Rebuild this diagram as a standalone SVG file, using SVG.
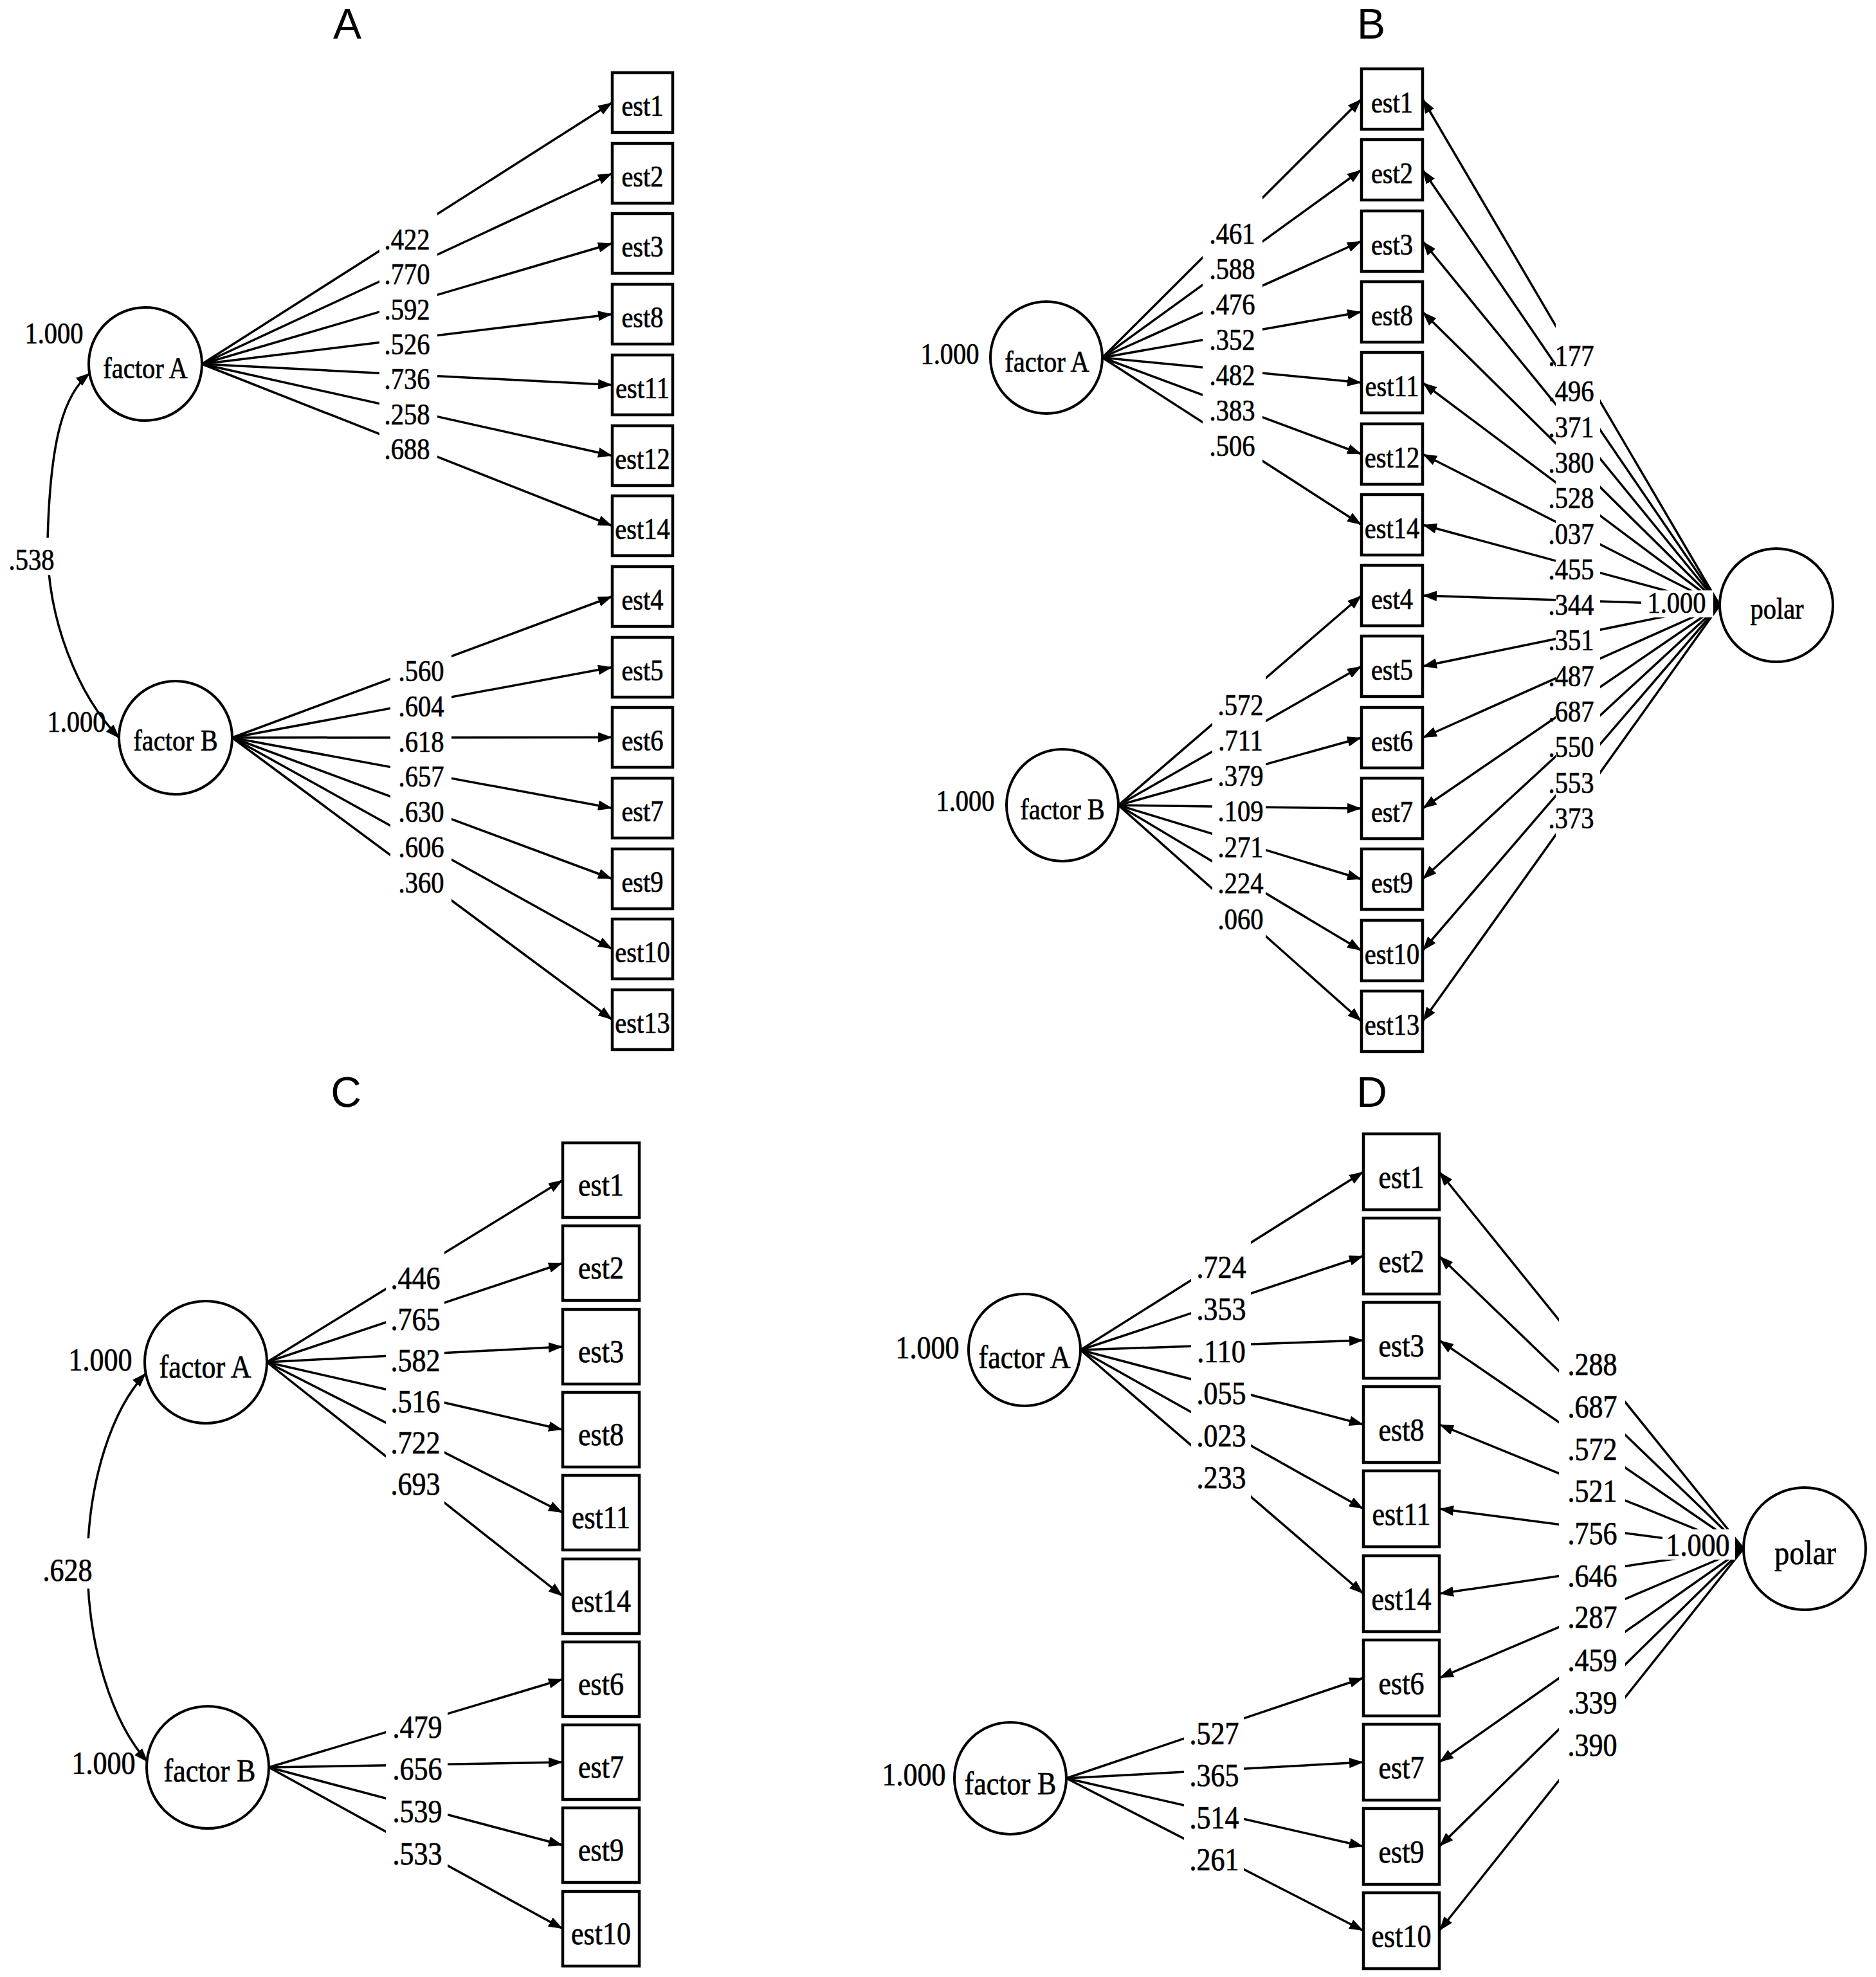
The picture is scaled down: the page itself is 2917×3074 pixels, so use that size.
<svg xmlns="http://www.w3.org/2000/svg" width="2917" height="3074" viewBox="0 0 2917 3074">
<style>
.t{font-family:"Liberation Serif","Times New Roman",serif;fill:#000;stroke:#000;stroke-width:0.7;text-anchor:middle;transform-box:fill-box;transform-origin:center;transform:scale(0.88,1)}
.ab{font-size:46px}
.cd{font-size:50px}
.title{font-family:"Liberation Sans",Arial,sans-serif;font-size:66px;text-anchor:middle;fill:#000}
.box{fill:#fff;stroke:#000;stroke-width:4.5}
.lat{fill:#fff;stroke:#000;stroke-width:4}
.c{fill:none;stroke:#000;stroke-width:3.5;marker-end:url(#ah)}
.cov{fill:none;stroke:#000;stroke-width:3.5;marker-start:url(#ah);marker-end:url(#ah)}
</style>
<defs>
<marker id="ah" viewBox="0 0 22 16" refX="22" refY="8" markerWidth="22" markerHeight="16" orient="auto-start-reverse" markerUnits="userSpaceOnUse"><path d="M0,0 L22,8 L0,16 Z" fill="#000"/></marker>
<mask id="gaps" maskUnits="userSpaceOnUse" x="0" y="0" width="2917" height="3074">
<rect x="0" y="0" width="2917" height="3074" fill="#fff"/>
<g fill="#000">
<rect x="590" y="320" width="90" height="405"/>
<rect x="607" y="1012" width="95" height="395"/>
<rect x="8" y="836" width="90" height="58"/>
<rect x="1870" y="300" width="93" height="425"/>
<rect x="1885" y="1045" width="83" height="420"/>
<rect x="2419" y="495" width="69" height="815"/>
<rect x="2552" y="918" width="112" height="42"/>
<rect x="600" y="1940" width="91" height="405"/>
<rect x="600" y="2655" width="96" height="255"/>
<rect x="62" y="2392" width="88" height="78"/>
<rect x="1852" y="1925" width="93" height="410"/>
<rect x="1841" y="2665" width="93" height="250"/>
<rect x="2424" y="2045" width="103" height="730"/>
<rect x="2585" y="2378" width="113" height="47"/>
</g>
</mask>
</defs>
<rect x="0" y="0" width="2917" height="3074" fill="#fff"/>

<g id="titles">
<text class="title" x="540" y="60">A</text>
<text class="title" x="2132" y="60">B</text>
<text class="title" x="538" y="1721">C</text>
<text class="title" x="2133" y="1721">D</text>
</g>

<g id="connectors" mask="url(#gaps)">
<g id="conn-A">
<path class="c" d="M314,566 L952,159.5"/>
<path class="c" d="M314,566 L952,269.5"/>
<path class="c" d="M314,566 L952,378.5"/>
<path class="c" d="M314,566 L952,488.5"/>
<path class="c" d="M314,566 L952,598.5"/>
<path class="c" d="M314,566 L952,708.5"/>
<path class="c" d="M314,566 L952,817.5"/>
<path class="c" d="M361,1147 L952,927.5"/>
<path class="c" d="M361,1147 L952,1037.5"/>
<path class="c" d="M361,1147 L952,1146.5"/>
<path class="c" d="M361,1147 L952,1256.5"/>
<path class="c" d="M361,1147 L952,1366.5"/>
<path class="c" d="M361,1147 L952,1475.5"/>
<path class="c" d="M361,1147 L952,1585.5"/>
<path class="cov" d="M140,580 C100,612 78,680 74,840 C72,960 120,1080 186,1148"/>
</g>
<g id="conn-B">
<path class="c" d="M1714,556 L2117,154"/>
<path class="c" d="M1714,556 L2117,264"/>
<path class="c" d="M1714,556 L2117,375"/>
<path class="c" d="M1714,556 L2117,485"/>
<path class="c" d="M1714,556 L2117,595"/>
<path class="c" d="M1714,556 L2117,706"/>
<path class="c" d="M1714,556 L2117,816"/>
<path class="c" d="M1739,1252 L2117,926"/>
<path class="c" d="M1739,1252 L2117,1036"/>
<path class="c" d="M1739,1252 L2117,1147"/>
<path class="c" d="M1739,1252 L2117,1257"/>
<path class="c" d="M1739,1252 L2117,1367"/>
<path class="c" d="M1739,1252 L2117,1478"/>
<path class="c" d="M1739,1252 L2117,1588"/>
<path class="c" d="M2674,941 L2212,154"/>
<path class="c" d="M2674,941 L2212,264"/>
<path class="c" d="M2674,941 L2212,375"/>
<path class="c" d="M2674,941 L2212,485"/>
<path class="c" d="M2674,941 L2212,595"/>
<path class="c" d="M2674,941 L2212,706"/>
<path class="c" d="M2674,941 L2212,816"/>
<path class="c" d="M2674,941 L2212,926"/>
<path class="c" d="M2674,941 L2212,1036"/>
<path class="c" d="M2674,941 L2212,1147"/>
<path class="c" d="M2674,941 L2212,1257"/>
<path class="c" d="M2674,941 L2212,1367"/>
<path class="c" d="M2674,941 L2212,1478"/>
<path class="c" d="M2674,941 L2212,1588"/>
</g>
<g id="conn-C">
<path class="c" d="M415,2118 L875,1835"/>
<path class="c" d="M415,2118 L875,1964"/>
<path class="c" d="M415,2118 L875,2094"/>
<path class="c" d="M415,2118 L875,2223"/>
<path class="c" d="M415,2118 L875,2352"/>
<path class="c" d="M415,2118 L875,2482"/>
<path class="c" d="M418,2748 L875,2611"/>
<path class="c" d="M418,2748 L875,2740"/>
<path class="c" d="M418,2748 L875,2869"/>
<path class="c" d="M418,2748 L875,2999"/>
<path class="cov" d="M227,2135 C175,2190 137,2300 136,2430 C136,2560 175,2680 230,2740"/>
</g>
<g id="conn-D">
<path class="c" d="M1680,2099 L2120,1822"/>
<path class="c" d="M1680,2099 L2120,1953"/>
<path class="c" d="M1680,2099 L2120,2084"/>
<path class="c" d="M1680,2099 L2120,2215"/>
<path class="c" d="M1680,2099 L2120,2346"/>
<path class="c" d="M1680,2099 L2120,2478"/>
<path class="c" d="M1658,2765 L2120,2609"/>
<path class="c" d="M1658,2765 L2120,2740"/>
<path class="c" d="M1658,2765 L2120,2871"/>
<path class="c" d="M1658,2765 L2120,3002"/>
<path class="c" d="M2711,2408 L2238,1822"/>
<path class="c" d="M2711,2408 L2238,1953"/>
<path class="c" d="M2711,2408 L2238,2084"/>
<path class="c" d="M2711,2408 L2238,2215"/>
<path class="c" d="M2711,2408 L2238,2346"/>
<path class="c" d="M2711,2408 L2238,2478"/>
<path class="c" d="M2711,2408 L2238,2609"/>
<path class="c" d="M2711,2408 L2238,2740"/>
<path class="c" d="M2711,2408 L2238,2871"/>
<path class="c" d="M2711,2408 L2238,3002"/>
</g>
</g>

<g id="labels">
<g class="ab">
<text class="t" x="633" y="388">.422</text><text class="t" x="633" y="442">.770</text><text class="t" x="633" y="497">.592</text><text class="t" x="633" y="551">.526</text><text class="t" x="633" y="605">.736</text><text class="t" x="633" y="660">.258</text><text class="t" x="633" y="714">.688</text>
<text class="t" x="655" y="1059">.560</text><text class="t" x="655" y="1114">.604</text><text class="t" x="655" y="1169">.618</text><text class="t" x="655" y="1223">.657</text><text class="t" x="655" y="1278">.630</text><text class="t" x="655" y="1333">.606</text><text class="t" x="655" y="1388">.360</text>
<text class="t" x="49" y="886">.538</text>
<text class="t" x="84" y="534">1.000</text><text class="t" x="119" y="1138">1.000</text>
<text class="t" x="1916" y="379">.461</text><text class="t" x="1916" y="434">.588</text><text class="t" x="1916" y="489">.476</text><text class="t" x="1916" y="544">.352</text><text class="t" x="1916" y="599">.482</text><text class="t" x="1916" y="654">.383</text><text class="t" x="1916" y="709">.506</text>
<text class="t" x="1929" y="1112">.572</text><text class="t" x="1929" y="1167">.711</text><text class="t" x="1929" y="1222">.379</text><text class="t" x="1929" y="1277">.109</text><text class="t" x="1929" y="1333">.271</text><text class="t" x="1929" y="1389">.224</text><text class="t" x="1929" y="1445">.060</text>
<text class="t" x="2443" y="569">.177</text><text class="t" x="2443" y="624">.496</text><text class="t" x="2443" y="680">.371</text><text class="t" x="2443" y="735">.380</text><text class="t" x="2443" y="790">.528</text><text class="t" x="2443" y="846">.037</text><text class="t" x="2443" y="901">.455</text><text class="t" x="2443" y="956">.344</text><text class="t" x="2443" y="1011">.351</text><text class="t" x="2443" y="1067">.487</text><text class="t" x="2443" y="1122">.687</text><text class="t" x="2443" y="1177">.550</text><text class="t" x="2443" y="1233">.553</text><text class="t" x="2443" y="1288">.373</text>
<text class="t" x="1477" y="566">1.000</text><text class="t" x="1501" y="1261">1.000</text><text class="t" x="2607" y="953">1.000</text>
</g>
<g class="cd">
<text class="t" x="646" y="2004">.446</text><text class="t" x="646" y="2068">.765</text><text class="t" x="646" y="2132">.582</text><text class="t" x="646" y="2196">.516</text><text class="t" x="646" y="2260">.722</text><text class="t" x="646" y="2324">.693</text>
<text class="t" x="649" y="2702">.479</text><text class="t" x="649" y="2767">.656</text><text class="t" x="649" y="2833">.539</text><text class="t" x="649" y="2899">.533</text>
<text class="t" x="105" y="2458">.628</text>
<text class="t" x="156" y="2131">1.000</text><text class="t" x="161" y="2758">1.000</text>
<text class="t" x="1899" y="1987">.724</text><text class="t" x="1899" y="2052">.353</text><text class="t" x="1899" y="2118">.110</text><text class="t" x="1899" y="2183">.055</text><text class="t" x="1899" y="2249">.023</text><text class="t" x="1899" y="2314">.233</text>
<text class="t" x="1888" y="2712">.527</text><text class="t" x="1888" y="2777">.365</text><text class="t" x="1888" y="2843">.514</text><text class="t" x="1888" y="2908">.261</text>
<text class="t" x="2476" y="2138">.288</text><text class="t" x="2476" y="2204">.687</text><text class="t" x="2476" y="2270">.572</text><text class="t" x="2476" y="2335">.521</text><text class="t" x="2476" y="2401">.756</text><text class="t" x="2476" y="2467">.646</text><text class="t" x="2476" y="2531">.287</text><text class="t" x="2476" y="2598">.459</text><text class="t" x="2476" y="2664">.339</text><text class="t" x="2476" y="2730">.390</text>
<text class="t" x="1442" y="2112">1.000</text><text class="t" x="1421" y="2776">1.000</text><text class="t" x="2640" y="2419">1.000</text>
</g>
</g>

<g id="nodes-A" class="ab">
<g id="A-factorA"><circle class="lat" cx="226" cy="566" r="88"/><text class="t" x="226" y="588">factor A</text></g>
<g id="A-factorB"><circle class="lat" cx="273" cy="1147" r="88"/><text class="t" x="273" y="1167">factor B</text></g>
<g id="A-est1"><rect class="box" x="952" y="113" width="94" height="93"/><text class="t" x="999" y="180.5">est1</text></g>
<g id="A-est2"><rect class="box" x="952" y="223" width="94" height="93"/><text class="t" x="999" y="290.5">est2</text></g>
<g id="A-est3"><rect class="box" x="952" y="332" width="94" height="93"/><text class="t" x="999" y="399.5">est3</text></g>
<g id="A-est8"><rect class="box" x="952" y="442" width="94" height="93"/><text class="t" x="999" y="509.5">est8</text></g>
<g id="A-est11"><rect class="box" x="952" y="552" width="94" height="93"/><text class="t" x="999" y="619.5">est11</text></g>
<g id="A-est12"><rect class="box" x="952" y="662" width="94" height="93"/><text class="t" x="999" y="729.5">est12</text></g>
<g id="A-est14"><rect class="box" x="952" y="771" width="94" height="93"/><text class="t" x="999" y="838.5">est14</text></g>
<g id="A-est4"><rect class="box" x="952" y="881" width="94" height="93"/><text class="t" x="999" y="948.5">est4</text></g>
<g id="A-est5"><rect class="box" x="952" y="991" width="94" height="93"/><text class="t" x="999" y="1058.5">est5</text></g>
<g id="A-est6"><rect class="box" x="952" y="1100" width="94" height="93"/><text class="t" x="999" y="1167.5">est6</text></g>
<g id="A-est7"><rect class="box" x="952" y="1210" width="94" height="93"/><text class="t" x="999" y="1277.5">est7</text></g>
<g id="A-est9"><rect class="box" x="952" y="1320" width="94" height="93"/><text class="t" x="999" y="1387.5">est9</text></g>
<g id="A-est10"><rect class="box" x="952" y="1429" width="94" height="93"/><text class="t" x="999" y="1496.5">est10</text></g>
<g id="A-est13"><rect class="box" x="952" y="1539" width="94" height="93"/><text class="t" x="999" y="1606.5">est13</text></g>
</g>

<g id="nodes-B" class="ab">
<g id="B-factorA"><circle class="lat" cx="1627" cy="556" r="87"/><text class="t" x="1628" y="578">factor A</text></g>
<g id="B-factorB"><circle class="lat" cx="1652" cy="1252" r="87"/><text class="t" x="1652" y="1274">factor B</text></g>
<g id="B-polar"><circle class="lat" cx="2762" cy="941" r="88"/><text class="t" x="2763" y="962">polar</text></g>
<g id="B-est1"><rect class="box" x="2117" y="107" width="95" height="94"/><text class="t" x="2164.5" y="175">est1</text></g>
<g id="B-est2"><rect class="box" x="2117" y="217" width="95" height="94"/><text class="t" x="2164.5" y="285">est2</text></g>
<g id="B-est3"><rect class="box" x="2117" y="328" width="95" height="94"/><text class="t" x="2164.5" y="396">est3</text></g>
<g id="B-est8"><rect class="box" x="2117" y="438" width="95" height="94"/><text class="t" x="2164.5" y="506">est8</text></g>
<g id="B-est11"><rect class="box" x="2117" y="548" width="95" height="94"/><text class="t" x="2164.5" y="616">est11</text></g>
<g id="B-est12"><rect class="box" x="2117" y="659" width="95" height="94"/><text class="t" x="2164.5" y="727">est12</text></g>
<g id="B-est14"><rect class="box" x="2117" y="769" width="95" height="94"/><text class="t" x="2164.5" y="837">est14</text></g>
<g id="B-est4"><rect class="box" x="2117" y="879" width="95" height="94"/><text class="t" x="2164.5" y="947">est4</text></g>
<g id="B-est5"><rect class="box" x="2117" y="989" width="95" height="94"/><text class="t" x="2164.5" y="1057">est5</text></g>
<g id="B-est6"><rect class="box" x="2117" y="1100" width="95" height="94"/><text class="t" x="2164.5" y="1168">est6</text></g>
<g id="B-est7"><rect class="box" x="2117" y="1210" width="95" height="94"/><text class="t" x="2164.5" y="1278">est7</text></g>
<g id="B-est9"><rect class="box" x="2117" y="1320" width="95" height="94"/><text class="t" x="2164.5" y="1388">est9</text></g>
<g id="B-est10"><rect class="box" x="2117" y="1431" width="95" height="94"/><text class="t" x="2164.5" y="1499">est10</text></g>
<g id="B-est13"><rect class="box" x="2117" y="1541" width="95" height="94"/><text class="t" x="2164.5" y="1609">est13</text></g>
</g>

<g id="nodes-C" class="cd">
<g id="C-factorA"><circle class="lat" cx="320" cy="2118" r="95"/><text class="t" x="319" y="2142">factor A</text></g>
<g id="C-factorB"><circle class="lat" cx="323" cy="2748" r="95"/><text class="t" x="326" y="2770">factor B</text></g>
<g id="C-est1"><rect class="box" x="875" y="1777" width="119" height="116"/><text class="t" x="934.5" y="1859">est1</text></g>
<g id="C-est2"><rect class="box" x="875" y="1906" width="119" height="116"/><text class="t" x="934.5" y="1988">est2</text></g>
<g id="C-est3"><rect class="box" x="875" y="2036" width="119" height="116"/><text class="t" x="934.5" y="2118">est3</text></g>
<g id="C-est8"><rect class="box" x="875" y="2165" width="119" height="116"/><text class="t" x="934.5" y="2247">est8</text></g>
<g id="C-est11"><rect class="box" x="875" y="2294" width="119" height="116"/><text class="t" x="934.5" y="2376">est11</text></g>
<g id="C-est14"><rect class="box" x="875" y="2424" width="119" height="116"/><text class="t" x="934.5" y="2506">est14</text></g>
<g id="C-est6"><rect class="box" x="875" y="2553" width="119" height="116"/><text class="t" x="934.5" y="2635">est6</text></g>
<g id="C-est7"><rect class="box" x="875" y="2682" width="119" height="116"/><text class="t" x="934.5" y="2764">est7</text></g>
<g id="C-est9"><rect class="box" x="875" y="2811" width="119" height="116"/><text class="t" x="934.5" y="2893">est9</text></g>
<g id="C-est10"><rect class="box" x="875" y="2941" width="119" height="116"/><text class="t" x="934.5" y="3023">est10</text></g>
</g>

<g id="nodes-D" class="cd">
<g id="D-factorA"><circle class="lat" cx="1593" cy="2099" r="87"/><text class="t" x="1593" y="2127">factor A</text></g>
<g id="D-factorB"><circle class="lat" cx="1571" cy="2765" r="87"/><text class="t" x="1571" y="2790">factor B</text></g>
<g id="D-polar"><circle class="lat" cx="2806" cy="2408" r="95"/><text class="t" x="2807" y="2432" style="font-size:53px">polar</text></g>
<g id="D-est1"><rect class="box" x="2120" y="1763" width="118" height="118"/><text class="t" x="2179" y="1847">est1</text></g>
<g id="D-est2"><rect class="box" x="2120" y="1894" width="118" height="118"/><text class="t" x="2179" y="1978">est2</text></g>
<g id="D-est3"><rect class="box" x="2120" y="2025" width="118" height="118"/><text class="t" x="2179" y="2109">est3</text></g>
<g id="D-est8"><rect class="box" x="2120" y="2156" width="118" height="118"/><text class="t" x="2179" y="2240">est8</text></g>
<g id="D-est11"><rect class="box" x="2120" y="2287" width="118" height="118"/><text class="t" x="2179" y="2371">est11</text></g>
<g id="D-est14"><rect class="box" x="2120" y="2419" width="118" height="118"/><text class="t" x="2179" y="2503">est14</text></g>
<g id="D-est6"><rect class="box" x="2120" y="2550" width="118" height="118"/><text class="t" x="2179" y="2634">est6</text></g>
<g id="D-est7"><rect class="box" x="2120" y="2681" width="118" height="118"/><text class="t" x="2179" y="2765">est7</text></g>
<g id="D-est9"><rect class="box" x="2120" y="2812" width="118" height="118"/><text class="t" x="2179" y="2896">est9</text></g>
<g id="D-est10"><rect class="box" x="2120" y="2943" width="118" height="118"/><text class="t" x="2179" y="3027">est10</text></g>
</g>
</svg>
